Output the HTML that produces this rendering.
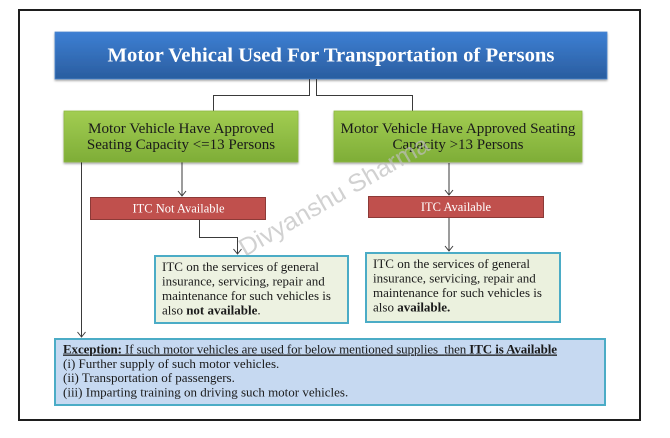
<!DOCTYPE html>
<html>
<head>
<meta charset="utf-8">
<style>
  html,body{margin:0;padding:0;background:#fff;}
  svg{display:block;}
  text{font-family:"Liberation Serif",serif;}
</style>
</head>
<body>
<svg width="670" height="438" viewBox="0 0 670 438" xmlns="http://www.w3.org/2000/svg">
  <defs>
    <linearGradient id="gBlue" x1="0" y1="0" x2="0" y2="1">
      <stop offset="0" stop-color="#3d7fd3"/>
      <stop offset="1" stop-color="#2a5d9f"/>
    </linearGradient>
    <linearGradient id="gGreen" x1="0" y1="0" x2="0" y2="1">
      <stop offset="0" stop-color="#a2cd52"/>
      <stop offset="1" stop-color="#7ead37"/>
    </linearGradient>
    <filter id="sh" x="-5%" y="-10%" width="110%" height="130%">
      <feDropShadow dx="0" dy="1.5" stdDeviation="1" flood-color="#000" flood-opacity="0.35"/>
    </filter>
  </defs>

  <rect x="0" y="0" width="670" height="438" fill="#fff"/>

  <!-- outer frame -->
  <rect x="19" y="10" width="621" height="410" fill="#fff" stroke="#1e1e1e" stroke-width="2"/>

  <!-- title -->
  <rect x="55" y="32" width="552" height="47" fill="url(#gBlue)" stroke="#4a86cf" stroke-width="0.8" filter="url(#sh)"/>
  <text x="331" y="61.5" font-size="20.5" font-weight="bold" fill="#fff" text-anchor="middle" textLength="447" lengthAdjust="spacingAndGlyphs">Motor Vehical Used For Transportation of Persons</text>

  <!-- connectors -->
  <g stroke="#3a3a3a" stroke-width="1" fill="none">
    <polyline points="309.5,79 309.5,95.5 213.5,95.5 213.5,111"/>
    <polyline points="316.5,79 316.5,95.5 412.5,95.5 412.5,111"/>
    <line x1="182" y1="162" x2="182" y2="196"/>
    <polyline points="178,191 182,196 186,191"/>
    <line x1="449" y1="163" x2="449" y2="195"/>
    <polyline points="445,190 449,195 453,190"/>
    <polyline points="199.5,220 199.5,237.5 237.5,237.5 237.5,254"/>
    <polyline points="233.5,249 237.5,254 241.5,249"/>
    <line x1="449" y1="218" x2="449" y2="251"/>
    <polyline points="445,246 449,251 453,246"/>
    <line x1="81.5" y1="162" x2="81.5" y2="337"/>
    <polyline points="77.5,332 81.5,337 85.5,332"/>
  </g>

  <!-- green boxes -->
  <rect x="64" y="111" width="234" height="51" fill="url(#gGreen)" stroke="#8fba43" stroke-width="0.8" filter="url(#sh)"/>
  <text x="181" y="133" font-size="15" fill="#1a1a1a" text-anchor="middle" textLength="186" lengthAdjust="spacingAndGlyphs">Motor Vehicle Have Approved</text>
  <text x="181" y="149" font-size="15" fill="#1a1a1a" text-anchor="middle">Seating Capacity &lt;=13 Persons</text>

  <rect x="334" y="111" width="248" height="51" fill="url(#gGreen)" stroke="#8fba43" stroke-width="0.8" filter="url(#sh)"/>
  <text x="458" y="133" font-size="15" fill="#1a1a1a" text-anchor="middle" textLength="235" lengthAdjust="spacingAndGlyphs">Motor Vehicle Have Approved Seating</text>
  <text x="458" y="149" font-size="15" fill="#1a1a1a" text-anchor="middle">Capacity &gt;13 Persons</text>

  <!-- red boxes -->
  <rect x="90.5" y="197.5" width="175" height="22" fill="#c0504d" stroke="#8c3a37" stroke-width="1"/>
  <text x="178.5" y="212.5" font-size="12.5" fill="#fff" text-anchor="middle">ITC Not Available</text>

  <rect x="368.5" y="196.5" width="175" height="21" fill="#c0504d" stroke="#8c3a37" stroke-width="1"/>
  <text x="456" y="211" font-size="12.5" fill="#fff" text-anchor="middle">ITC Available</text>

  <!-- watermark -->
  <text x="0" y="0" font-size="25" fill="#bdbdbd" fill-opacity="0.7" transform="translate(245,257) rotate(-30)" textLength="215" lengthAdjust="spacingAndGlyphs" style="font-family:'Liberation Sans',sans-serif">Divyanshu Sharma</text>

  <!-- pale boxes -->
  <rect x="155" y="256" width="193" height="67" fill="#ebf1de" fill-opacity="0.92" stroke="#4bacc6" stroke-width="2"/>
  <g font-size="13" fill="#1a1a1a">
    <text x="162" y="271">ITC on the services of general</text>
    <text x="162" y="285.5">insurance, servicing, repair and</text>
    <text x="162" y="300">maintenance for such vehicles is</text>
    <text x="162" y="314.5">also <tspan font-weight="bold">not available</tspan>.</text>
  </g>

  <rect x="366" y="253" width="194" height="69" fill="#ebf1de" stroke="#4bacc6" stroke-width="2"/>
  <g font-size="13" fill="#1a1a1a">
    <text x="373" y="268">ITC on the services of general</text>
    <text x="373" y="282.5">insurance, servicing, repair and</text>
    <text x="373" y="297">maintenance for such vehicles is</text>
    <text x="373" y="311.5">also <tspan font-weight="bold">available.</tspan></text>
  </g>

  <!-- exception box -->
  <rect x="55" y="339" width="550" height="66" fill="#c6d9f1" stroke="#4bacc6" stroke-width="2"/>
  <g font-size="13" fill="#1a1a1a">
    <text x="63" y="353.5" textLength="494" lengthAdjust="spacing" style="text-decoration:underline"><tspan font-weight="bold">Exception:</tspan> If such motor vehicles are used for below mentioned supplies&#160; then <tspan font-weight="bold">ITC is Available</tspan></text>
    <text x="63" y="367.8">(i) Further supply of such motor vehicles.</text>
    <text x="63" y="382">(ii) Transportation of passengers.</text>
    <text x="63" y="396.3">(iii) Imparting training on driving such motor vehicles.</text>
  </g>
</svg>
</body>
</html>
